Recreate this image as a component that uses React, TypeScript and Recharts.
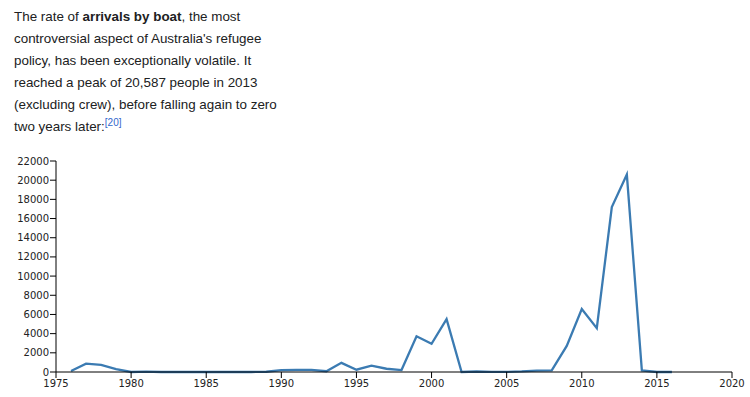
import { LineChart, Line, XAxis, YAxis } from 'recharts'

const years = [
  1976, 1977, 1978, 1979, 1980, 1981, 1982, 1983, 1984, 1985, 1986, 1987, 1988, 1989, 1990,
  1991, 1992, 1993, 1994, 1995, 1996, 1997, 1998, 1999, 2000, 2001, 2002, 2003, 2004, 2005,
  2006, 2007, 2008, 2009, 2010, 2011, 2012, 2013, 2014, 2015, 2016,
]
const arrivals = [
  111, 868, 746, 304, 0, 30, 0, 0, 0, 0, 0, 0, 0, 26, 198,
  214, 216, 81, 953, 237, 660, 339, 200, 3721, 2939, 5516, 1, 53, 15, 11,
  60, 148, 161, 2726, 6555, 4565, 17202, 20587, 160, 0, 0,
]
const xTicks = [1975, 1980, 1985, 1990, 1995, 2000, 2005, 2010, 2015, 2020]
const yTicks = [0, 2000, 4000, 6000, 8000, 10000, 12000, 14000, 16000, 18000, 20000, 22000]

const data = years.map((year, i) => ({ year, people: arrivals[i] }))

const tickStyle = { fontSize: 10, fill: '#222', fontFamily: 'DejaVu Sans' }

export default function App() {
  return (
    <div style={{ position: 'absolute', top: 0, left: 0, width: 750, height: 397, background: '#fff' }}>
      <div
        style={{
          position: 'absolute',
          top: 6,
          left: 14,
          width: 300,
          fontFamily: '"Liberation Sans", Arial, sans-serif',
          fontSize: 13.4,
          lineHeight: '22px',
          color: '#202122',
        }}
      >
        The rate of <b>arrivals by boat</b>, the most
        <br />
        controversial aspect of Australia's refugee
        <br />
        policy, has been exceptionally volatile. It
        <br />
        reached a peak of 20,587 people in 2013
        <br />
        (excluding crew), before falling again to zero
        <br />
        two years later:
        <sup style={{ fontSize: 10, color: '#3366cc', lineHeight: 0 }}>[20]</sup>
      </div>
      <div style={{ position: 'absolute', top: 150, left: 0 }}>
        <LineChart width={750} height={247} data={data} margin={{ top: 11, right: 18, bottom: 5, left: 0 }}>
          <XAxis
            dataKey="year"
            type="number"
            domain={[1975, 2020]}
            ticks={xTicks}
            tick={tickStyle}
            stroke="#000"
            tickSize={6}
            height={20}
          />
          <YAxis
            type="number"
            domain={[0, 22000]}
            ticks={yTicks}
            tick={tickStyle}
            stroke="#000"
            tickSize={6}
            tickMargin={1}
            width={56}
          />
          <Line
            dataKey="people"
            type="linear"
            stroke="#3b7bb2"
            strokeWidth={2.3}
            dot={false}
            isAnimationActive={false}
          />
        </LineChart>
      </div>
    </div>
  )
}
